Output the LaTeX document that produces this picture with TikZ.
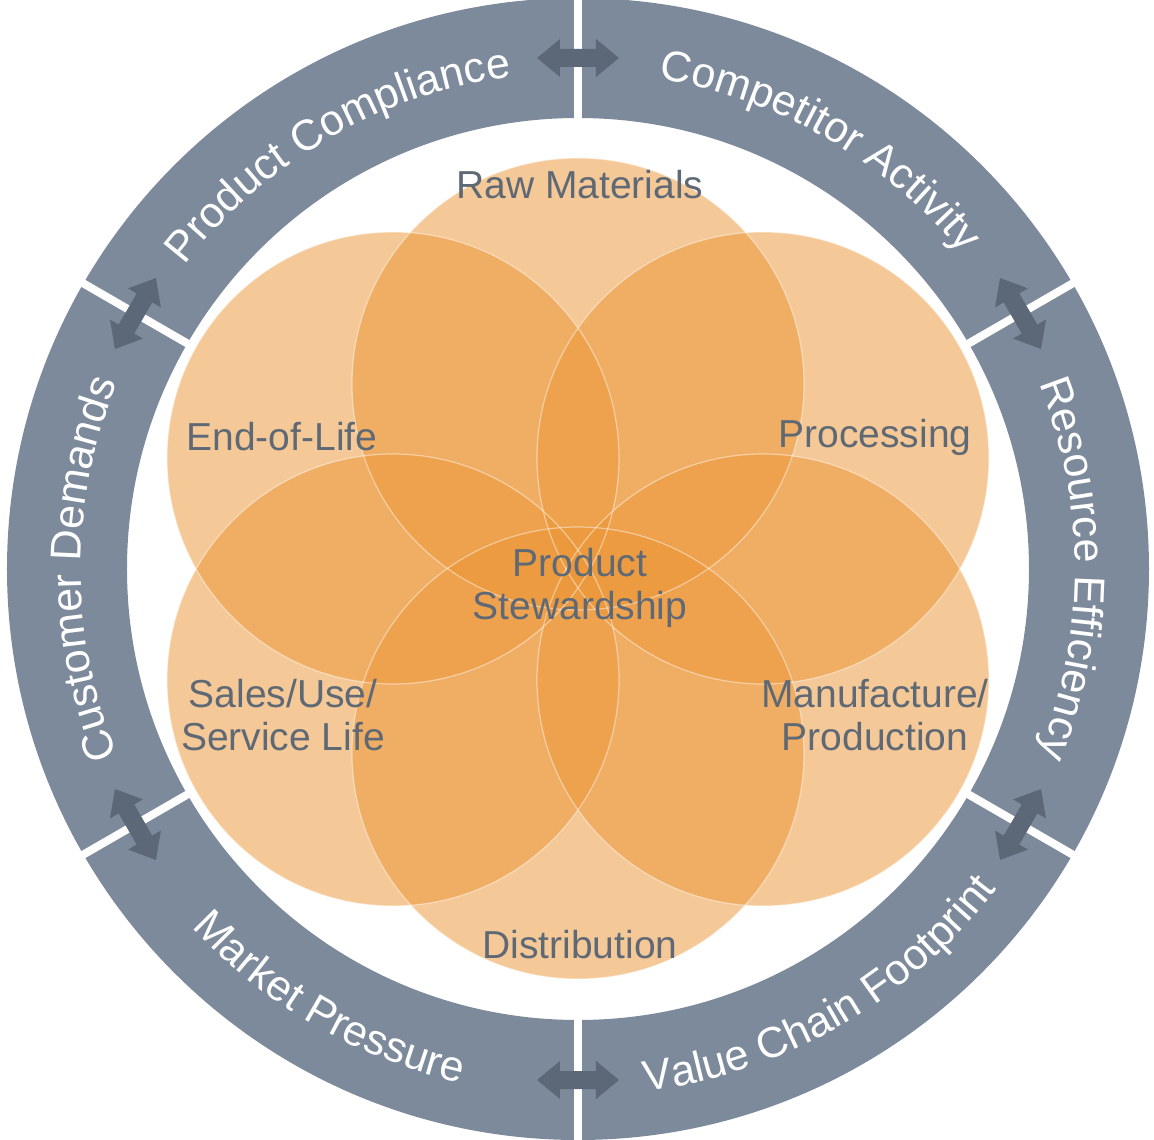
\documentclass[tikz,border=0pt]{standalone}
\usepackage{fontspec}
\setmainfont{Liberation Sans}
\usetikzlibrary{decorations.text}
\definecolor{ringcol}{HTML}{7D8A9B}
\definecolor{arrowcol}{HTML}{5C6878}
\definecolor{labelcol}{HTML}{5E6975}
\definecolor{petalcol}{RGB}{236,150,55}
\newcommand\myringfont{\fontsize{43}{50}\selectfont\color{white}}
\newcommand\mylblfont{\fontsize{39}{43}\selectfont}
\begin{document}
\begin{tikzpicture}[x=1pt,y=1pt,
  petal/.style={circle, minimum size=452pt, inner sep=0pt, fill=petalcol, fill opacity=0.52},
  petaledge/.style={draw=white, draw opacity=0.45, line width=1.2pt},
  lbl/.style={text=labelcol, font=\mylblfont, align=center, inner sep=0pt},
  gapline/.style={white, line width=8pt},
  dblarrow/.style={fill=arrowcol},
  ringtext/.style={decorate, decoration={text along path, text align=center, text={|\myringfont|#1}}}
]
\useasboundingbox (-578,-571) rectangle (576,569);
% ring
\fill[ringcol, even odd rule] (0,0) circle (571pt) (0,0) circle (451pt);
\foreach \a in {30,90,...,330} \draw[gapline] (\a:445pt) -- (\a:575pt);
% double arrows
\foreach \a in {30,90,...,330} {
  \fill[dblarrow, shift={(\a:511pt)}, rotate=\a+90]
    (-41,0) -- (-18,19) -- (-18,9) -- (18,9) -- (18,19) -- (41,0)
    -- (18,-19) -- (18,-9) -- (-18,-9) -- (-18,-19) -- cycle;
}
% ring texts (top/sides: clockwise, tops outward)
\path[ringtext={Product Compliance}] (150:497pt) arc[start angle=150, end angle=90, radius=497pt];
\path[ringtext={Competitor Activity}] (90:497pt) arc[start angle=90, end angle=30, radius=497pt];
\path[ringtext={Resource Efficiency}] (30:497pt) arc[start angle=30, end angle=-30, radius=497pt];
\path[ringtext={Customer Demands}] (210:497pt) arc[start angle=210, end angle=150, radius=497pt];
% bottom: counter-clockwise, tops inward
\path[ringtext={Market Pressure}] (210:527pt) arc[start angle=210, end angle=270, radius=527pt];
\path[ringtext={Value Chain Footprint}] (270:527pt) arc[start angle=270, end angle=330, radius=527pt];
% petals
\node[petal] (cr) at (0,185) {};
\node[petal] (cp) at (185,111) {};
\node[petal] (cm) at (185,-111) {};
\node[petal] (cd) at (0,-184) {};
\node[petal] (cs) at (-185,-111) {};
\node[petal] (ce) at (-185,111) {};
\foreach \n in {cr,cp,cm,cd,cs,ce} \draw[petaledge] (\n) circle (226pt);
% labels
\node[lbl] (lraw) at (2,384) {Raw Materials};
\node[lbl] (leol) at (-296,132) {End-of-Life};
\node[lbl] (lproc) at (297,132) {Processing};
\node[lbl] (lps) at (2,-19) {Product\\Stewardship};
\node[lbl] (lsales) at (-295,-146) {Sales/Use/\\Service Life};
\node[lbl] (lman) at (297,-146) {Manufacture/\\Production};
\node[lbl] (ldist) at (2,-376) {Distribution};
\end{tikzpicture}
\end{document}
